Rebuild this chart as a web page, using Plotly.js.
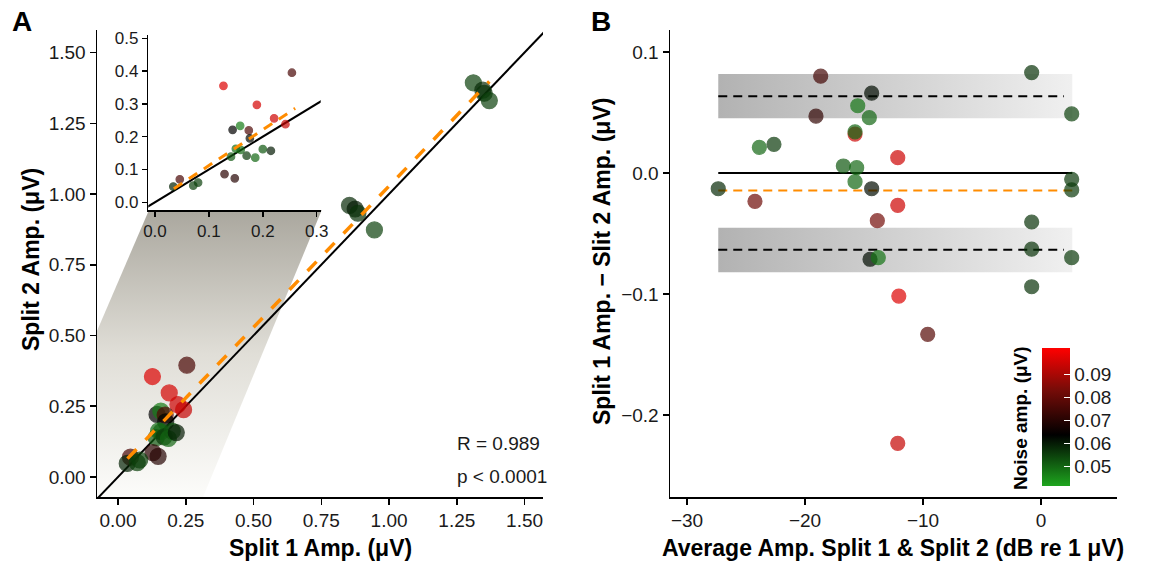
<!DOCTYPE html>
<html><head><meta charset="utf-8">
<script src="https://cdn.plot.ly/plotly-3.0.1.min.js"></script>
<style>html,body{margin:0;padding:0;background:#fff}</style>
</head><body><div id="chart" style="width:1149px;height:561px"></div>
<script>
// ---------- Panel A data (Split 1 vs Split 2 amplitude, µV) ----------
const split1 = [0.127,0.254,0.189,0.221,0.242,0.144,0.158,0.174,0.176,0.150,0.159,0.141,0.170,0.186,0.200,0.215,0.129,0.148,0.046,0.034,0.071,0.080,1.311,1.346,1.351,1.370,0.854,0.875,0.885,0.946];
const split2 = [0.355,0.395,0.297,0.256,0.238,0.221,0.233,0.219,0.195,0.163,0.160,0.139,0.142,0.136,0.162,0.157,0.086,0.073,0.070,0.048,0.051,0.060,1.393,1.367,1.356,1.330,0.960,0.947,0.932,0.873];
const noiseA = [0.097,0.076,0.096,0.095,0.094,0.064,0.047,0.077,0.063,0.049,0.050,0.052,0.056,0.050,0.052,0.060,0.071,0.070,0.076,0.059,0.055,0.055,0.055,0.058,0.057,0.055,0.058,0.060,0.057,0.055];
// regression fits (slope, intercept, x-extent)
const regMain = {slope: 0.998, intercept: 0.030, x0: 0.035, x1: 1.37};
const regInset = {slope: 1.09, intercept: 0.003, x0: 0.035, x1: 0.26};
const statsText = ["R = 0.989", "p < 0.0001"];

// ---------- Panel B data (Bland-Altman) ----------
const avgDb = [-18.67,-0.79,-14.35,-15.53,-14.55,-19.07,2.6,-15.76,-15.76,-23.87,-22.63,-12.14,-16.75,-15.62,-15.76,-27.35,-14.35,2.6,2.6,-24.24,-12.14,-13.87,-0.79,-0.79,-14.49,-13.79,2.6,-0.79,-12.05,-9.6,-12.14];
const diffB = [0.080,0.083,0.066,0.0556,0.0457,0.047,0.0488,0.0322,0.034,0.0212,0.0237,0.0127,0.0058,0.0044,-0.0072,-0.013,-0.013,-0.0052,-0.014,-0.0234,-0.0267,-0.0394,-0.0405,-0.063,-0.0713,-0.070,-0.070,-0.094,-0.1017,-0.1333,-0.2234];
const noiseB = [0.075,0.057,0.062,0.048,0.050,0.072,0.055,0.095,0.050,0.050,0.056,0.095,0.052,0.050,0.050,0.058,0.062,0.056,0.056,0.082,0.095,0.083,0.057,0.057,0.062,0.048,0.056,0.057,0.097,0.078,0.094];
const meanDiff = -0.0145;
const loaUpper = 0.0635, loaLower = -0.0635;
const loaUpperCI = [0.0452, 0.0818];
const loaLowerCI = [-0.0820, -0.0452];
const baRange = [-27.35, 2.65];
const noiseTicks = [0.05,0.06,0.07,0.08,0.09];

// ---------- styling ----------
const FONT = "Liberation Sans, Arial, Helvetica, sans-serif";
const cmin = 0.0416, cmax = 0.1016;
const cscale = [[0,'rgb(30,165,30)'],[0.37,'rgb(0,0,0)'],[0.7,'rgb(120,12,8)'],[1,'rgb(255,0,0)']];
const W = 1149, H = 561;
const px = v => v / W, py = v => 1 - v / H;

function markerOf(noise, size, showscale) {
  const m = {color: noise, colorscale: cscale, cmin: cmin, cmax: cmax, size: size, opacity: 0.7,
    line: {color: noise, colorscale: cscale, cmin: cmin, cmax: cmax, width: 1.2}, showscale: !!showscale};
  if (showscale) {
    m.colorbar = {x: px(1042), xanchor: 'left', xref: 'paper', y: py(417), yanchor: 'middle',
      len: 138, lenmode: 'pixels', thickness: 28, thicknessmode: 'pixels', outlinewidth: 0,
      xpad: 0, ypad: 0, tickvals: noiseTicks, ticktext: noiseTicks.map(v => v.toFixed(2)),
      ticks: 'inside', ticklen: 6, tickcolor: 'white', tickwidth: 1.5,
      tickfont: {family: FONT, size: 19, color: '#1a1a1a'}, title: {text: ''}};
  }
  return m;
}
function fitLine(r) { return {x: [r.x0, r.x1], y: [r.slope*r.x0 + r.intercept, r.slope*r.x1 + r.intercept]}; }

const traces = [];
// zoom cone (decorative gradient polygon)
traces.push({type:'scatter', mode:'lines', x:[0.1144,0.7517,0.258,-0.399], y:[0.9435,0.9435,-0.2,-0.2],
  fill:'toself', line:{width:0}, hoverinfo:'skip', showlegend:false, xaxis:'x', yaxis:'y',
  fillgradient:{type:'vertical', start:-0.0707, stop:0.9435,
    colorscale:[[0,'rgb(252,252,250)'],[0.5,'rgb(224,222,215)'],[1,'rgb(170,167,158)']]}});
// identity line main
traces.push({type:'scatter', mode:'lines', x:[-0.2,1.7], y:[-0.2,1.7], line:{color:'black', width:2},
  hoverinfo:'skip', showlegend:false, xaxis:'x', yaxis:'y'});
// main points
traces.push({type:'scatter', mode:'markers', x: split1, y: split2, marker: markerOf(noiseA, 16), showlegend:false, xaxis:'x', yaxis:'y'});
// main regression
const fm = fitLine(regMain);
traces.push({type:'scatter', mode:'lines', x: fm.x, y: fm.y, line:{color:'#FF8C00', width:3.5, dash:'13px,13px'},
  showlegend:false, xaxis:'x', yaxis:'y'});
// inset identity
traces.push({type:'scatter', mode:'lines', x:[-0.1,0.5], y:[-0.1,0.5], line:{color:'black', width:2},
  hoverinfo:'skip', showlegend:false, xaxis:'x2', yaxis:'y2'});
// inset points
traces.push({type:'scatter', mode:'markers', x: split1, y: split2, marker: markerOf(noiseA, 7.5), showlegend:false, xaxis:'x2', yaxis:'y2'});
const fi = fitLine(regInset);
traces.push({type:'scatter', mode:'lines', x: fi.x, y: fi.y, line:{color:'#FF8C00', width:3, dash:'10px,8px'},
  showlegend:false, xaxis:'x2', yaxis:'y2'});

// Panel B bands
[loaUpperCI, loaLowerCI].forEach(ci => {
  traces.push({type:'scatter', mode:'lines', x:[baRange[0],baRange[1],baRange[1],baRange[0]], y:[ci[0],ci[0],ci[1],ci[1]],
    fill:'toself', line:{width:0}, hoverinfo:'skip', showlegend:false, xaxis:'x3', yaxis:'y3',
    fillgradient:{type:'horizontal', colorscale:[[0,'rgb(178,178,178)'],[1,'rgb(240,240,240)']]}});
});
traces.push({type:'scatter', mode:'lines', x: baRange, y:[0,0], line:{color:'black', width:2}, showlegend:false, xaxis:'x3', yaxis:'y3'});
traces.push({type:'scatter', mode:'lines', x: baRange, y:[meanDiff,meanDiff], line:{color:'#FF8C00', width:2, dash:'9px,6px'}, showlegend:false, xaxis:'x3', yaxis:'y3'});
[loaUpper, loaLower].forEach(v => {
  traces.push({type:'scatter', mode:'lines', x:[baRange[0], 1.95], y:[v,v], line:{color:'black', width:2, dash:'9px,6px'}, showlegend:false, xaxis:'x3', yaxis:'y3'});
});
traces.push({type:'scatter', mode:'markers', x: avgDb, y: diffB, marker: markerOf(noiseB, 14, true), showlegend:false, xaxis:'x3', yaxis:'y3'});

const axBase = {showline:true, linecolor:'black', linewidth:1.5, ticks:'outside', ticklen:6, tickwidth:1.5, tickcolor:'black',
  showgrid:false, zeroline:false, tickfont:{family:FONT, size:19, color:'#1a1a1a'}, fixedrange:true};
const mainTicks = [0,0.25,0.5,0.75,1,1.25,1.5];
function ann(text, x, y, size, extra) {
  return Object.assign({text:text, xref:'paper', yref:'paper', x:px(x), y:py(y), xanchor:'center', yanchor:'middle',
    showarrow:false, font:{family:FONT, size:size, color:'black'}}, extra || {});
}
const layout = {
  width: W, height: H, margin:{l:0,r:0,t:0,b:0}, paper_bgcolor:'white', plot_bgcolor:'rgba(0,0,0,0)',
  showlegend:false, font:{family:FONT, color:'black'},
  xaxis: Object.assign({}, axBase, {domain:[px(97), px(543)], range:[-0.0775, 1.568], tickvals: mainTicks, ticktext: mainTicks.map(v=>v.toFixed(2)), anchor:'y'}),
  yaxis: Object.assign({}, axBase, {domain:[py(497), py(30)], range:[-0.0707, 1.5795], tickvals: mainTicks, ticktext: mainTicks.map(v=>v.toFixed(2)), anchor:'x'}),
  xaxis2: Object.assign({}, axBase, {domain:[px(148.3), px(320.7)], range:[-0.0124, 0.3074], tickvals:[0,0.1,0.2,0.3], ticktext:['0.0','0.1','0.2','0.3'], ticklen:5, tickfont:{family:FONT,size:17,color:'#1a1a1a'}, anchor:'y2'}),
  yaxis2: Object.assign({}, axBase, {domain:[py(210), py(35)], range:[-0.0235, 0.51], tickvals:[0,0.1,0.2,0.3,0.4,0.5], ticktext:['0.0','0.1','0.2','0.3','0.4','0.5'], ticklen:5, tickfont:{family:FONT,size:17,color:'#1a1a1a'}, anchor:'x2'}),
  xaxis3: Object.assign({}, axBase, {domain:[px(670), px(1117)], range:[-31.44, 6.44], tickvals:[-30,-20,-10,0], ticktext:['\u221230','\u221220','\u221210','0'], anchor:'y3'}),
  yaxis3: Object.assign({}, axBase, {domain:[py(497), py(30)], range:[-0.2678, 0.1182], tickvals:[-0.2,-0.1,0,0.1], ticktext:['\u22120.2','\u22120.1','0.0','0.1'], anchor:'x3'}),
  annotations: [
    ann('<b>A</b>', 22, 22, 28),
    ann('<b>B</b>', 601, 22, 28),
    ann('<b>Split 1 Amp. (μV)</b>', 320, 548, 23),
    ann('<b>Split 2 Amp. (μV)</b>', 31, 260, 23, {textangle:-90}),
    ann('<b>Average Amp. Split 1 &amp; Split 2 (dB re 1 μV)</b>', 893, 548, 23),
    ann('<b>Split 1 Amp. \u2212 Slit 2 Amp. (μV)</b>', 602, 262, 23, {textangle:-90}),
    ann('<b>Noise amp. (μV)</b>', 1020, 418, 19, {textangle:-90}),
    ann(statsText[0], 455, 443, 19, {xanchor:'left', font:{family:FONT,size:19,color:'#1a1a1a'}}),
    ann(statsText[1], 455, 476, 19, {xanchor:'left', font:{family:FONT,size:19,color:'#1a1a1a'}})
  ]
};
Plotly.newPlot('chart', traces, layout, {staticPlot:true, displayModeBar:false});
</script></body></html>
